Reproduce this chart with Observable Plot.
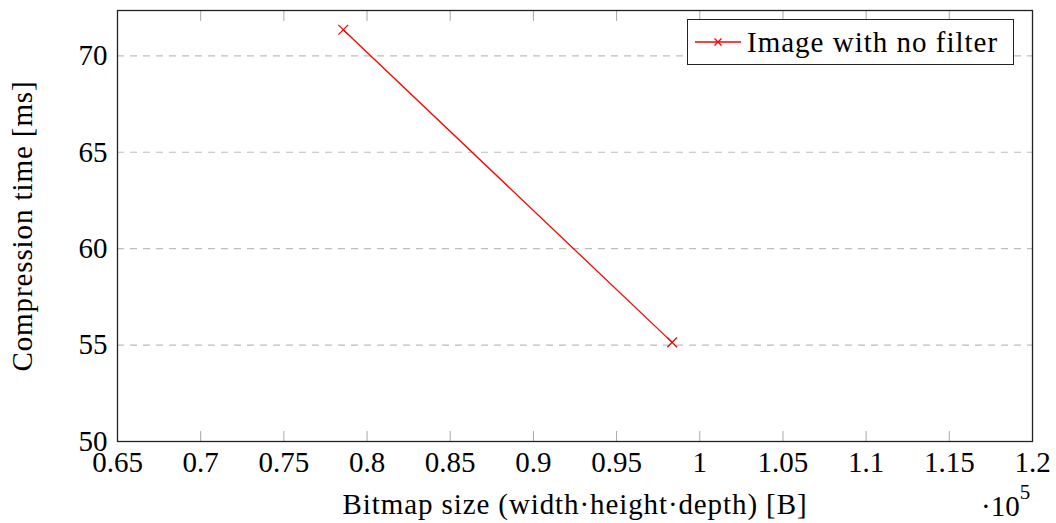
<!DOCTYPE html>
<html><head><meta charset="utf-8">
<script src="https://cdn.jsdelivr.net/npm/d3@7"></script>
<script src="https://cdn.jsdelivr.net/npm/@observablehq/plot@0.6"></script>
<style>
body{margin:0;background:#fff;}
#wrap{position:relative;width:1056px;height:523px;font-family:"Liberation Serif",serif;color:#000;}
#legend{position:absolute;left:687px;top:19px;width:327px;height:46px;box-sizing:border-box;border:1px solid #222;background:#fff;display:flex;align-items:center;font-size:29px;white-space:nowrap;letter-spacing:1px;}
#legend svg{margin-left:7px;margin-right:6px;}
#expo{position:absolute;left:981px;top:492px;font-size:29px;line-height:1;white-space:nowrap;}
#expo sup{font-size:21px;vertical-align:0;position:relative;top:-17px;line-height:1;}
</style></head><body><div id="wrap"></div>
<script>
// Data (x in units of 10^5 B)
const seriesName = "Image with no filter";
const bitmapSize = [0.7857, 0.9834];
const compressionTime = [71.35, 55.14];
const xTicks = [0.65, 0.7, 0.75, 0.8, 0.85, 0.9, 0.95, 1, 1.05, 1.1, 1.15, 1.2];
const yTicks = [50, 55, 60, 65, 70];
const xLabel = "Bitmap size (width·height·depth) [B]";
const yLabel = "Compression time [ms]";
const xExponent = "5";

const data = bitmapSize.map((x, i) => ({x, y: compressionTime[i]}));
const fmt = d => String(+d.toFixed(2));

const chart = Plot.plot({
  width: 1056, height: 523,
  marginLeft: 117, marginRight: 24, marginTop: 10, marginBottom: 82,
  style: {fontFamily: "'Liberation Serif', serif", fontSize: "29px", background: "white", color: "black"},
  x: {domain: [0.65, 1.2]},
  y: {domain: [50, 72.35]},
  marks: [
    Plot.gridY(yTicks.filter(d => d > 50), {stroke: "#bdbdbd", strokeOpacity: 1, strokeWidth: 1.2, strokeDasharray: "7,6"}),
    Plot.axisX(xTicks, {anchor: "bottom", tickSize: -10, stroke: "#a8a8a8", strokeOpacity: 1, fill: "none", label: null}),
    Plot.axisX(xTicks, {anchor: "top", tickSize: -10, stroke: "#a8a8a8", strokeOpacity: 1, fill: "none", label: null}),
    Plot.axisX(xTicks, {anchor: "bottom", tickSize: 0, tickPadding: 10, tickFormat: fmt, fill: "black",
      label: xLabel, labelAnchor: "center", labelArrow: "none", labelOffset: 72}),
    Plot.axisY(yTicks, {anchor: "left", tickSize: 0, tickPadding: 10, fill: "black",
      label: yLabel, labelAnchor: "center", labelArrow: "none", labelOffset: 106}),
    Plot.frame({stroke: "#222", strokeWidth: 1.3}),
    Plot.line(data, {x: "x", y: "y", stroke: "#ff0000", strokeWidth: 1.3}),
    Plot.dot(data, {x: "x", y: "y", symbol: "times", r: 4.5, stroke: "#ff0000", strokeWidth: 1.3})
  ]
});

const wrap = document.getElementById("wrap");
wrap.appendChild(chart);
// widen the axis-label lettering a little (Computer Modern is wider than Times)
chart.querySelectorAll("text").forEach(t => {
  const s = t.textContent;
  if (s === xLabel || s === yLabel) t.style.letterSpacing = "0.9px";
});

const legend = document.createElement("div");
legend.id = "legend";
legend.innerHTML = `<svg width="46" height="20" viewBox="0 0 46 20"><line x1="0" y1="10" x2="46" y2="10" stroke="#ff0000" stroke-width="1.3"/><path d="M19.5,6.5L26.5,13.5M26.5,6.5L19.5,13.5" stroke="#ff0000" stroke-width="1.3"/></svg><span></span>`;
legend.querySelector("span").textContent = seriesName;
wrap.appendChild(legend);

const expo = document.createElement("div");
expo.id = "expo";
expo.innerHTML = `·10<sup></sup>`;
expo.querySelector("sup").textContent = xExponent;
wrap.appendChild(expo);
</script>
</body></html>
